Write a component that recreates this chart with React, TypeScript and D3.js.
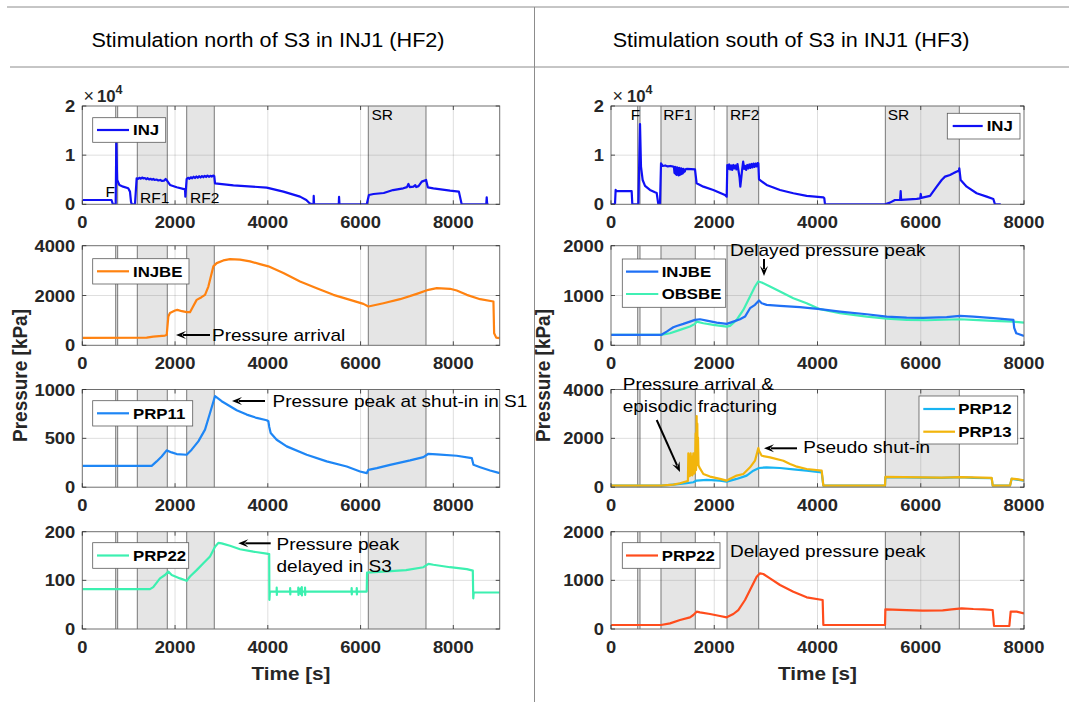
import React from 'react';
import * as d3 from 'd3';

type P = [number, number];

// ---------- data ----------
const leftXMax = 9000;
const rightXMax = 8000;
const xTicks = [0, 2000, 4000, 6000, 8000];
const leftPhases: P[] = [[720, 763], [1186, 1833], [2251, 2846], [6167, 7411]];
const rightPhases: P[] = [[517, 562], [968, 1633], [2247, 2861], [5314, 6747]];
const phaseNames = ['F', 'RF1', 'RF2', 'SR'];

const injTicks = [0, 10000, 20000];
const injTickLabels = ['0', '1', '2'];
const injbeLeftTicks = [0, 2000, 4000];
const prp11Ticks = [0, 500, 1000];
const prp22LeftTicks = [0, 100, 200];
const injbeRightTicks = [0, 1000, 2000];
const prp1213Ticks = [0, 2000, 4000];
const prp22RightTicks = [0, 1000, 2000];

const seriesNames = ['INJ', 'INJBE', 'PRP11', 'PRP22', 'OBSBE', 'PRP12', 'PRP13'];
const colors: Record<string, string> = {
  INJ: '#1010f5',
  INJBE_L: '#ff8210',
  PRP11: '#1e86f5',
  PRP22_L: '#3cf0b0',
  INJBE_R: '#1f70f5',
  OBSBE: '#40f0b4',
  PRP12: '#18b4f2',
  PRP13: '#f2b50c',
  PRP22_R: '#ff4c1c',
};

const leftInj: P[] = [
  [0, 880], [630, 880], [660, 0], [720, 0], [733, 12500], [752, 4950], [800, 3930], [880, 3590], [990, 3250],
  [1028, 2580], [1050, 540], [1065, 0], [1136, 0], [1172, 5290], [1200, 5150], [1230, 5400], [1260, 5200],
  [1290, 5450], [1320, 5250], [1350, 5350], [1380, 5100], [1410, 5300], [1440, 5050], [1470, 5200], [1500, 5000],
  [1530, 5150], [1560, 4950], [1600, 5050], [1640, 4850], [1680, 4950], [1720, 4750], [1760, 4800], [1797, 5150],
  [1820, 4900], [1891, 3930], [2035, 3460], [2215, 3050], [2222, 1560], [2250, 5150], [2280, 5400], [2310, 5200],
  [2340, 5500], [2370, 5300], [2400, 5600], [2430, 5350], [2460, 5650], [2490, 5400], [2520, 5700], [2550, 5450],
  [2580, 5750], [2610, 5500], [2640, 5800], [2670, 5550], [2700, 5850], [2730, 5600], [2760, 5800], [2790, 5650],
  [2820, 5850], [2846, 5700], [2862, 4270], [3258, 3860], [3976, 3390], [4336, 2580], [4695, 1560], [4830, 880],
  [4900, 200], [4960, 0], [4985, 0], [4990, 1700], [4998, 0], [5530, 0], [5536, 1500], [5545, 0], [6133, 0],
  [6180, 1900], [6280, 2100], [6500, 2300], [6700, 2900], [6920, 3250], [7000, 3500], [7032, 4140], [7060, 3500],
  [7140, 3600], [7180, 3900], [7200, 3500], [7250, 3700], [7320, 4610], [7413, 4950], [7450, 3460], [7570, 3250],
  [7930, 2780], [8120, 2580], [8180, 0], [8710, 0], [8720, 1400], [8730, 0], [8760, 0],
];

const leftInjbe: P[] = [
  [0, 300], [1388, 305], [1530, 350], [1783, 390], [1820, 416], [1855, 1154], [1890, 1300], [1999, 1395],
  [2050, 1422], [2150, 1370], [2250, 1330], [2322, 1330], [2380, 1530], [2466, 1825], [2570, 1932], [2646, 2026],
  [2718, 2360], [2826, 3170], [2898, 3300], [3040, 3409], [3185, 3462], [3400, 3440], [3617, 3370], [3830, 3260],
  [4012, 3170], [4336, 2900], [4695, 2560], [5055, 2295], [5414, 2026], [5774, 1825], [6061, 1664], [6169, 1557],
  [6493, 1690], [6852, 1852], [7212, 2067], [7463, 2228], [7643, 2295], [7930, 2270], [8074, 2200], [8290, 2026],
  [8578, 1852], [8865, 1758], [8880, 483], [8925, 309], [9000, 290],
];

const leftPrp11: P[] = [
  [0, 219], [1496, 219], [1603, 264], [1711, 315], [1819, 377], [1927, 356], [2035, 339], [2250, 332], [2358, 384],
  [2502, 469], [2646, 589], [2754, 760], [2862, 932], [3005, 880], [3185, 829], [3329, 788], [3545, 743], [3760, 709],
  [3976, 685], [4012, 675], [4030, 620], [4062, 555], [4191, 486], [4407, 418], [4839, 332], [5270, 264], [5702, 212],
  [5989, 161], [6133, 144], [6169, 178], [6350, 195], [6636, 229], [7068, 274], [7355, 308], [7463, 342], [7643, 335],
  [8074, 322], [8398, 298], [8434, 229], [8578, 205], [8793, 171], [9000, 144],
];

const leftPrp22: P[] = [
  [0, 82], [1460, 82], [1530, 86], [1675, 104], [1783, 111], [1855, 118], [1927, 111], [2107, 104], [2250, 99],
  [2322, 108], [2466, 121], [2610, 135], [2754, 149], [2862, 169], [2933, 177], [3005, 176], [3185, 171], [3401, 164],
  [3688, 159], [3976, 155], [4030, 154], [4034, 60], [4045, 77], [4190, 77], [4192, 85], [4195, 70], [4198, 77],
  [4480, 77], [4482, 84], [4485, 71], [4488, 77], [4655, 77], [4658, 85], [4661, 70], [4664, 77], [4700, 77],
  [4705, 83], [4710, 72], [4715, 77], [4730, 77], [4733, 86], [4736, 69], [4740, 77], [4800, 77], [4803, 85],
  [4806, 70], [4810, 77], [5805, 77], [5808, 84], [5811, 71], [5814, 77], [5915, 77], [5918, 84], [5921, 71],
  [5925, 77], [6133, 77], [6140, 116], [6480, 118], [6980, 121], [7355, 127], [7463, 134], [7570, 132], [7930, 127],
  [8290, 123], [8420, 120], [8430, 63], [8440, 75], [9000, 75],
];

const rightInj: P[] = [
  [0, 0], [77, 0], [90, 2915], [110, 2700], [400, 2700], [413, 0], [530, 0], [562, 16340], [581, 7660], [613, 4950],
  [659, 3730], [755, 2915], [852, 2440], [885, 2300], [917, 0], [949, 0], [969, 8340], [1000, 7800], [1050, 7900],
  [1100, 7700], [1150, 7800], [1207, 7660], [1220, 7500], [1230, 6400], [1240, 7600], [1250, 6200], [1260, 7400],
  [1270, 6000], [1280, 7500], [1290, 6100], [1300, 7300], [1310, 5900], [1320, 7400], [1330, 6000], [1340, 7200],
  [1350, 6100], [1360, 7300], [1370, 6200], [1380, 7100], [1390, 6300], [1400, 7200], [1410, 6500], [1420, 7000],
  [1430, 6700], [1440, 7100], [1466, 7200], [1550, 7150], [1627, 7120], [1659, 4270], [1789, 3590], [1982, 2915],
  [2208, 1900], [2241, 1560], [2253, 8000], [2270, 7200], [2290, 8100], [2310, 7100], [2330, 7900], [2350, 7000],
  [2370, 8000], [2390, 7300], [2410, 7900], [2430, 7100], [2450, 8200], [2470, 6800], [2490, 5500], [2505, 3600],
  [2520, 5000], [2540, 7000], [2560, 8700], [2580, 7200], [2600, 7800], [2620, 7000], [2640, 8000], [2660, 7300],
  [2680, 8100], [2700, 7400], [2720, 8200], [2740, 7500], [2760, 8300], [2780, 7600], [2800, 8300], [2820, 7700],
  [2840, 8400], [2854, 8340], [2867, 5085], [3015, 3930], [3274, 2915], [3532, 2240], [3790, 1700], [4113, 1420],
  [4132, 1220], [4145, 0], [5308, 0], [5404, 340], [5500, 880], [5600, 900], [5611, 2700], [5620, 900], [5921, 1100],
  [5990, 1200], [6000, 2100], [6010, 1300], [6180, 1700], [6309, 3590], [6405, 4950], [6470, 5630], [6567, 5970],
  [6630, 6300], [6690, 6640], [6741, 6850], [6747, 7320], [6773, 4950], [6890, 3590], [7083, 2240], [7277, 1560],
  [7406, 1085], [7438, 0], [7550, 0],
];

const rightInjbe: P[] = [
  [0, 208], [969, 208], [1078, 275], [1207, 362], [1272, 389], [1401, 430], [1530, 476], [1627, 510], [1724, 523],
  [1853, 497], [2047, 456], [2241, 430], [2370, 476], [2499, 523], [2596, 577], [2693, 745], [2789, 812], [2867, 900],
  [2919, 846], [3015, 812], [3274, 792], [3661, 765], [4049, 725], [4436, 678], [4953, 624], [5340, 577], [5727, 557],
  [6050, 550], [6502, 564], [6760, 590], [7018, 577], [7406, 544], [7794, 510], [7810, 350], [7850, 242], [8000, 188],
];

const rightObsbe: P[] = [
  [0, 208], [969, 208], [1143, 242], [1337, 309], [1530, 376], [1627, 430], [1659, 476], [1789, 443], [1982, 409],
  [2241, 376], [2305, 390], [2434, 510], [2563, 711], [2693, 980], [2789, 1181], [2854, 1282], [2919, 1262],
  [3080, 1181], [3274, 1080], [3532, 946], [3790, 846], [4049, 725], [4436, 644], [4953, 577], [5340, 537],
  [5727, 510], [6115, 503], [6760, 523], [7018, 510], [7406, 490], [7794, 476], [8000, 456],
];

const rightPrp12: P[] = [
  [0, 68], [969, 68], [1207, 108], [1466, 163], [1595, 203], [1659, 271], [1853, 298], [2111, 271], [2241, 230],
  [2434, 339], [2628, 475], [2757, 678], [2867, 787], [3015, 814], [3274, 787], [3532, 732], [3790, 678], [4081, 610],
  [4113, 68], [5308, 68], [5315, 407], [6400, 380], [6760, 407], [7018, 380], [7374, 366], [7394, 68], [7730, 68],
  [7760, 339], [7857, 312], [8000, 271],
];

const rightPrp13: P[] = [
  [0, 68], [969, 68], [1207, 108], [1337, 163], [1466, 244], [1490, 260], [1498, 1383], [1505, 500], [1515, 1300],
  [1525, 450], [1543, 1383], [1552, 500], [1565, 1250], [1575, 480], [1595, 1383], [1605, 550], [1625, 600],
  [1640, 2200], [1648, 700], [1659, 2915], [1665, 900], [1672, 2600], [1680, 1000], [1685, 2034], [1695, 900],
  [1711, 814], [1789, 542], [1918, 434], [2111, 339], [2241, 271], [2338, 380], [2434, 475], [2563, 542], [2693, 814],
  [2789, 1085], [2854, 1600], [2867, 1492], [2919, 1288], [3080, 1220], [3339, 1085], [3468, 949], [3532, 900],
  [3600, 841], [3790, 746], [4081, 678], [4113, 68], [5308, 68], [5315, 420], [6400, 390], [6760, 415], [7018, 400],
  [7374, 380], [7394, 68], [7730, 68], [7760, 350], [7857, 330], [8000, 280],
];

const rightPrp22: P[] = [
  [0, 82], [969, 82], [1143, 116], [1337, 185], [1530, 240], [1595, 288], [1659, 356], [1724, 342], [1918, 308],
  [2111, 267], [2241, 240], [2370, 308], [2466, 390], [2596, 596], [2693, 801], [2822, 1075], [2886, 1144],
  [2950, 1130], [3080, 1041], [3274, 904], [3532, 767], [3790, 651], [4100, 596], [4113, 82], [5308, 82], [5315, 404],
  [5727, 390], [6037, 377], [6425, 384], [6600, 404], [6793, 425], [7018, 411], [7212, 404], [7393, 390], [7420, 62],
  [7716, 62], [7742, 356], [7857, 356], [8000, 322],
];

// ---------- helpers ----------
const FONT = "'Liberation Sans', Arial, Helvetica, sans-serif";
const AX = '#262626';

function Txt(props: any) {
  const { x, y, size = 17, weight = 'normal', anchor = 'start', fill = '#000', sx = 1.12, rotate = 0, children } = props;
  const tr = rotate
    ? `translate(${x},${y}) rotate(${rotate}) scale(1,${sx})`
    : `translate(${x},${y}) scale(${sx},1)`;
  return (
    <text transform={tr} fontSize={size} fontWeight={weight} textAnchor={anchor} fill={fill} fontFamily={FONT}>
      {children}
    </text>
  );
}

function Arrow({ x1, y1, x2, y2 }: { x1: number; y1: number; x2: number; y2: number }) {
  const a = Math.atan2(y2 - y1, x2 - x1);
  const L = 10, W = 8;
  const pt = (dx: number, dy: number) => {
    const c = Math.cos(a), s = Math.sin(a);
    return `${x2 + dx * c - dy * s},${y2 + dx * s + dy * c}`;
  };
  const ex = x2 - Math.cos(a) * L * 0.7;
  const ey = y2 - Math.sin(a) * L * 0.7;
  return (
    <g>
      <line x1={x1} y1={y1} x2={ex} y2={ey} stroke="#000" strokeWidth={2} />
      <polygon points={`${pt(0, 0)} ${pt(-L, W / 2)} ${pt(-L * 0.6, 0)} ${pt(-L, -W / 2)}`} fill="#000" />
    </g>
  );
}

function Legend({ x, y, w, h, items, lx1, lx2, tx }: any) {
  return (
    <g>
      <rect x={x} y={y} width={w} height={h} fill="#fff" stroke="#5a5a5a" strokeWidth={0.8} />
      {items.map((it: any) => (
        <g key={it.label}>
          <line x1={lx1} x2={lx2} y1={it.cy} y2={it.cy} stroke={it.color} strokeWidth={2.2} />
          <Txt x={tx} y={it.cy + 5.4} size={15} weight="bold" fill="#000">{it.label}</Txt>
        </g>
      ))}
    </g>
  );
}

function Panel(props: any) {
  const { id, box, xMax, yMax, yTicks, yLabels, phases, series, children } = props;
  const [x0, y0, x1, y1] = box;
  const xs = d3.scaleLinear().domain([0, xMax]).range([x0, x1]);
  const ys = d3.scaleLinear().domain([0, yMax]).range([y1, y0]);
  const line = d3.line<P>().x((d) => xs(d[0])).y((d) => ys(d[1]));
  const grid = 'rgba(38,38,38,0.15)';
  return (
    <g>
      <defs>
        <clipPath id={id}>
          <rect x={x0} y={y0} width={x1 - x0} height={y1 - y0} />
        </clipPath>
      </defs>
      <rect x={x0} y={y0} width={x1 - x0} height={y1 - y0} fill="#fff" />
      {xTicks.filter((t) => t > 0 && t < xMax).map((t) => (
        <line key={'gx' + t} x1={xs(t)} x2={xs(t)} y1={y0} y2={y1} stroke={grid} strokeWidth={1} />
      ))}
      {yTicks.filter((t: number) => t > 0 && t < yMax).map((t: number) => (
        <line key={'gy' + t} x1={x0} x2={x1} y1={ys(t)} y2={ys(t)} stroke={grid} strokeWidth={1} />
      ))}
      {phases.map((p: P, i: number) => (
        <g key={'ph' + i}>
          <rect x={xs(p[0])} y={y0} width={xs(p[1]) - xs(p[0])} height={y1 - y0} fill="rgba(110,110,110,0.18)" />
          <line x1={xs(p[0])} x2={xs(p[0])} y1={y0} y2={y1} stroke="rgba(40,40,40,0.6)" strokeWidth={1} />
          <line x1={xs(p[1])} x2={xs(p[1])} y1={y0} y2={y1} stroke="rgba(40,40,40,0.6)" strokeWidth={1} />
        </g>
      ))}
      <g clipPath={`url(#${id})`}>
        {series.map((s: any, i: number) => (
          <path key={'s' + i} d={line(s.data) || ''} fill="none" stroke={s.color} strokeWidth={2.2} strokeLinejoin="round" />
        ))}
      </g>
      <rect x={x0} y={y0} width={x1 - x0} height={y1 - y0} fill="none" stroke="#6e6e6e" strokeWidth={1} />
      {xTicks.filter((t) => t <= xMax).map((t) => (
        <g key={'tx' + t}>
          <line x1={xs(t)} x2={xs(t)} y1={y1} y2={y1 - 4} stroke={AX} strokeWidth={0.8} />
          <line x1={xs(t)} x2={xs(t)} y1={y0} y2={y0 + 4} stroke={AX} strokeWidth={0.8} />
          <Txt x={xs(t)} y={y1 + 24} size={16.4} weight="bold" anchor="middle" fill={AX}>{String(t)}</Txt>
        </g>
      ))}
      {yTicks.map((t: number, i: number) => (
        <g key={'ty' + t}>
          <line x1={x0} x2={x0 + 4} y1={ys(t)} y2={ys(t)} stroke={AX} strokeWidth={0.8} />
          <line x1={x1} x2={x1 - 4} y1={ys(t)} y2={ys(t)} stroke={AX} strokeWidth={0.8} />
          <Txt x={x0 - 7} y={ys(t) + 6} size={16.4} weight="bold" anchor="end" fill={AX}>{yLabels ? yLabels[i] : String(t)}</Txt>
        </g>
      ))}
      {children}
    </g>
  );
}

export default function App() {
  const L = [82.3, 499.7];
  const R = [611, 1024];
  const rows = [[106, 204.3], [245.7, 345.3], [389.5, 487.2], [531.7, 629]];
  return (
    <svg width={1069} height={702} style={{ position: 'absolute', left: 0, top: 0, background: '#fff' }}>
      <rect x={0} y={0} width={1069} height={702} fill="#fff" />
      {/* frame */}
      <line x1={7} x2={1069} y1={7} y2={7} stroke="#8c8c8c" strokeWidth={1} />
      <line x1={10} x2={1069} y1={67} y2={67} stroke="#8c8c8c" strokeWidth={1} />
      <line x1={534.5} x2={534.5} y1={7} y2={702} stroke="#8c8c8c" strokeWidth={1} />
      <Txt x={268} y={47} size={19.3} anchor="middle">Stimulation north of S3 in INJ1 (HF2)</Txt>
      <Txt x={791} y={47} size={19.3} anchor="middle">Stimulation south of S3 in INJ1 (HF3)</Txt>

      {/* ---------- LEFT ---------- */}
      <Panel id="l1" box={[L[0], rows[0][0], L[1], rows[0][1]]} xMax={leftXMax} yMax={20000} yTicks={injTicks}
        yLabels={injTickLabels} phases={leftPhases} series={[{ data: leftInj, color: colors.INJ }]}>
        <Txt x={105.5} y={196.5} size={15.5} sx={1}>{phaseNames[0]}</Txt>
        <Txt x={140} y={202.5} size={15.5} sx={1}>{phaseNames[1]}</Txt>
        <Txt x={190} y={202.5} size={15.5} sx={1}>{phaseNames[2]}</Txt>
        <Txt x={371.5} y={120} size={15.5} sx={1}>{phaseNames[3]}</Txt>
        <Legend x={92.7} y={117.7} w={73} h={24.6} lx1={97} lx2={129} tx={133}
          items={[{ label: seriesNames[0], color: colors.INJ, cy: 130 }]} />
      </Panel>
      <Txt x={83.5} y={102} size={18} sx={1} fill={AX}>×</Txt>
      <Txt x={97} y={102} size={16.5} sx={1.02} weight="bold" fill={AX}>10</Txt>
      <Txt x={115.5} y={93.5} size={12.5} sx={1} weight="bold" fill={AX}>4</Txt>

      <Panel id="l2" box={[L[0], rows[1][0], L[1], rows[1][1]]} xMax={leftXMax} yMax={4000} yTicks={injbeLeftTicks}
        phases={leftPhases} series={[{ data: leftInjbe, color: colors.INJBE_L }]}>
        <Legend x={92.7} y={258.7} w={96.3} h={25.3} lx1={97} lx2={129} tx={133}
          items={[{ label: seriesNames[1], color: colors.INJBE_L, cy: 271.3 }]} />
        <Arrow x1={210} y1={335} x2={176} y2={335} />
        <Txt x={212} y={341} size={17}>Pressure arrival</Txt>
      </Panel>

      <Panel id="l3" box={[L[0], rows[2][0], L[1], rows[2][1]]} xMax={leftXMax} yMax={1000} yTicks={prp11Ticks}
        phases={leftPhases} series={[{ data: leftPrp11, color: colors.PRP11 }]}>
        <Legend x={92.7} y={400.7} w={100} h={25.3} lx1={97} lx2={129} tx={133}
          items={[{ label: seriesNames[2], color: colors.PRP11, cy: 413.3 }]} />
        <Arrow x1={265} y1={401} x2={232} y2={401} />
        <Txt x={272.5} y={407} size={17}>Pressure peak at shut-in in S1</Txt>
      </Panel>

      <Panel id="l4" box={[L[0], rows[3][0], L[1], rows[3][1]]} xMax={leftXMax} yMax={200} yTicks={prp22LeftTicks}
        phases={leftPhases} series={[{ data: leftPrp22, color: colors.PRP22_L }]}>
        <Legend x={92.7} y={542.7} w={96} h={25.6} lx1={97} lx2={129} tx={133}
          items={[{ label: seriesNames[3], color: colors.PRP22_L, cy: 555.5 }]} />
        <Arrow x1={270.7} y1={543.3} x2={238.3} y2={543.3} />
        <Txt x={276.5} y={549.5} size={17}>Pressure peak</Txt>
        <Txt x={276.5} y={571.5} size={17}>delayed in S3</Txt>
      </Panel>
      <Txt x={(L[0] + L[1]) / 2} y={680} size={18.5} weight="bold" anchor="middle" fill={AX}>Time [s]</Txt>
      <Txt x={27} y={375.5} size={19} weight="bold" anchor="middle" rotate={-90} sx={1.05} fill={AX}>Pressure [kPa]</Txt>

      {/* ---------- RIGHT ---------- */}
      <Panel id="r1" box={[R[0], rows[0][0], R[1], rows[0][1]]} xMax={rightXMax} yMax={20000} yTicks={injTicks}
        yLabels={injTickLabels} phases={rightPhases} series={[{ data: rightInj, color: colors.INJ }]}>
        <Txt x={630.7} y={120} size={15.5} sx={1}>{phaseNames[0]}</Txt>
        <Txt x={663.3} y={120} size={15.5} sx={1}>{phaseNames[1]}</Txt>
        <Txt x={730} y={120} size={15.5} sx={1}>{phaseNames[2]}</Txt>
        <Txt x={887.7} y={120} size={15.5} sx={1}>{phaseNames[3]}</Txt>
        <Legend x={947.3} y={113.3} w={72.7} h={25.7} lx1={952.7} lx2={982.7} tx={986.7}
          items={[{ label: seriesNames[0], color: colors.INJ, cy: 126 }]} />
      </Panel>
      <Txt x={612.5} y={102} size={18} sx={1} fill={AX}>×</Txt>
      <Txt x={627} y={102} size={16.5} sx={1.02} weight="bold" fill={AX}>10</Txt>
      <Txt x={645.5} y={93.5} size={12.5} sx={1} weight="bold" fill={AX}>4</Txt>

      <Panel id="r2" box={[R[0], rows[1][0], R[1], rows[1][1]]} xMax={rightXMax} yMax={2000} yTicks={injbeRightTicks}
        phases={rightPhases} series={[{ data: rightObsbe, color: colors.OBSBE }, { data: rightInjbe, color: colors.INJBE_R }]}>
        <Legend x={622.3} y={259} w={103.4} h={48.3} lx1={626} lx2={658.3} tx={661.7}
          items={[{ label: seriesNames[1], color: colors.INJBE_R, cy: 271.7 }, { label: seriesNames[4], color: colors.OBSBE, cy: 294 }]} />
        <Txt x={730} y={256} size={17}>Delayed pressure peak</Txt>
        <Arrow x1={764} y1={259} x2={764} y2={276} />
      </Panel>

      <Panel id="r3" box={[R[0], rows[2][0], R[1], rows[2][1]]} xMax={rightXMax} yMax={4000} yTicks={prp1213Ticks}
        phases={rightPhases} series={[{ data: rightPrp12, color: colors.PRP12 }, { data: rightPrp13, color: colors.PRP13 }]}>
        <Legend x={919} y={396} w={98.7} h={48} lx1={923.3} lx2={955} tx={958.3}
          items={[{ label: seriesNames[5], color: colors.PRP12, cy: 409 }, { label: seriesNames[6], color: colors.PRP13, cy: 431.7 }]} />
        <Txt x={622.7} y={389.5} size={17}>Pressure arrival &amp;</Txt>
        <Txt x={622.7} y={412.3} size={17}>episodic fracturing</Txt>
        <Arrow x1={656.7} y1={420} x2={680} y2={472} />
        <Arrow x1={797} y1={448.3} x2={764} y2={448.3} />
        <Txt x={803.3} y={452.7} size={17}>Pseudo shut-in</Txt>
      </Panel>

      <Panel id="r4" box={[R[0], rows[3][0], R[1], rows[3][1]]} xMax={rightXMax} yMax={2000} yTicks={prp22RightTicks}
        phases={rightPhases} series={[{ data: rightPrp22, color: colors.PRP22_R }]}>
        <Legend x={622.3} y={542.7} w={97.7} h={25.6} lx1={626} lx2={658} tx={661.7}
          items={[{ label: seriesNames[3], color: colors.PRP22_R, cy: 555.5 }]} />
        <Txt x={730} y={556.6} size={17}>Delayed pressure peak</Txt>
      </Panel>
      <Txt x={(R[0] + R[1]) / 2} y={680} size={18.5} weight="bold" anchor="middle" fill={AX}>Time [s]</Txt>
      <Txt x={550} y={375.5} size={19} weight="bold" anchor="middle" rotate={-90} sx={1.05} fill={AX}>Pressure [kPa]</Txt>
    </svg>
  );
}
